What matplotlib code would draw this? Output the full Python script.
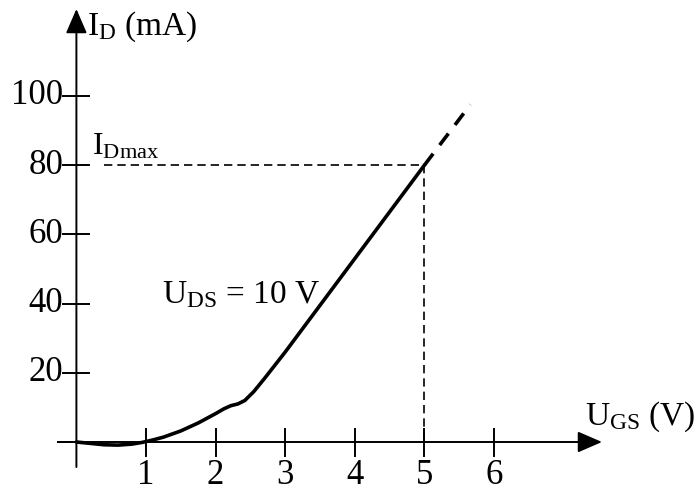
import matplotlib
matplotlib.use('Agg')
import matplotlib.pyplot as plt
import numpy as np

plt.rcParams['font.family'] = 'Liberation Serif'
plt.rcParams['mathtext.fontset'] = 'custom'
plt.rcParams['mathtext.rm'] = 'Liberation Serif'
plt.rcParams['mathtext.it'] = 'Liberation Serif'

# transfer characteristic I_D(U_GS) at U_DS = 10 V
u_gs = [0.0, 0.2, 0.4, 0.6, 0.8, 0.95, 1.1, 1.25, 1.5, 1.75, 2.0, 2.12, 2.22, 2.32, 2.42, 2.55, 2.7, 3.0, 3.5, 4.0, 4.5, 5.0]
i_d = [0.0, -0.4, -0.8, -0.9, -0.6, -0.1, 0.6, 1.4, 3.2, 5.5, 8.2, 9.6, 10.5, 11.0, 12.0, 14.6, 18.3, 26.0, 39.5, 53.0, 66.5, 80.0]
# extrapolated part beyond I_Dmax
u_ext = [5.0, 5.66]
i_ext = [80.0, 97.5]

x_ticks = [1, 2, 3, 4, 5, 6]
y_ticks = [20, 40, 60, 80, 100]
i_dmax = 80
u_dmax = 5

fig = plt.figure(figsize=(6.96, 4.93), dpi=100)
ax = fig.add_axes([0, 0, 1, 1])
ax.axis('off')

# pixel -> data mapping: origin at (76.4, 442), 69.6 px per volt, 3.46 px per mA
x0, y0, sx, sy = 76.4, 442, 69.6, 3.46
ax.set_xlim((0 - x0) / sx, (696 - x0) / sx)
ax.set_ylim((y0 - 493) / sy, y0 / sy)

def px(x, y):
    return (x - x0) / sx, (y0 - y) / sy

# axes with arrow heads
arrow = dict(arrowstyle='-|>,head_length=15,head_width=6.5', color='black',
             lw=1.4, shrinkA=0, shrinkB=0, mutation_scale=1)
ax.annotate('', xy=px(x0, 9), xytext=px(x0, 467), arrowprops=arrow)
ax.annotate('', xy=px(602, y0), xytext=px(58, y0), arrowprops=arrow)

for t in x_ticks:
    ax.plot([t, t], [px(0, 429)[1], px(0, 456)[1]], color='black', lw=1.4)
    ax.text(t, px(0, 475)[1], str(t), ha='center', va='center', fontsize=25)
for t in y_ticks:
    ax.plot([px(63, 0)[0], px(89, 0)[0]], [t, t], color='black', lw=1.4)
    ax.text(px(63, 0)[0], t, str(t), ha='right', va='center', fontsize=25)
ax.plot([px(58, 0)[0], 0], [0, 0], color='black', lw=1.4)

# I_Dmax guide lines
ax.plot([px(104, 0)[0], u_dmax], [i_dmax, i_dmax], color='black', lw=1.2, ls=(0, (5, 3)))
ax.plot([u_dmax, u_dmax], [i_dmax, 0], color='black', lw=1.2, ls=(0, (5, 3)))

ax.plot(u_gs, i_d, color='black', lw=2.6, solid_capstyle='round', solid_joinstyle='round')
ax.plot(u_ext, i_ext, color='black', lw=2.6, ls=(0, (4, 3)))

ax.text(*px(87, 27), r'$\mathrm{I_D}$ (mA)', ha='left', va='center', fontsize=24)
ax.text(*px(92, 147), r'$\mathrm{I_{Dmax}}$', ha='left', va='center', fontsize=23)
ax.text(*px(162, 295), r'$\mathrm{U_{DS}}$ = 10 V', ha='left', va='center', fontsize=24)
ax.text(*px(585, 417), r'$\mathrm{U_{GS}}$ (V)', ha='left', va='center', fontsize=24)

fig.savefig('out.png', dpi=100)
